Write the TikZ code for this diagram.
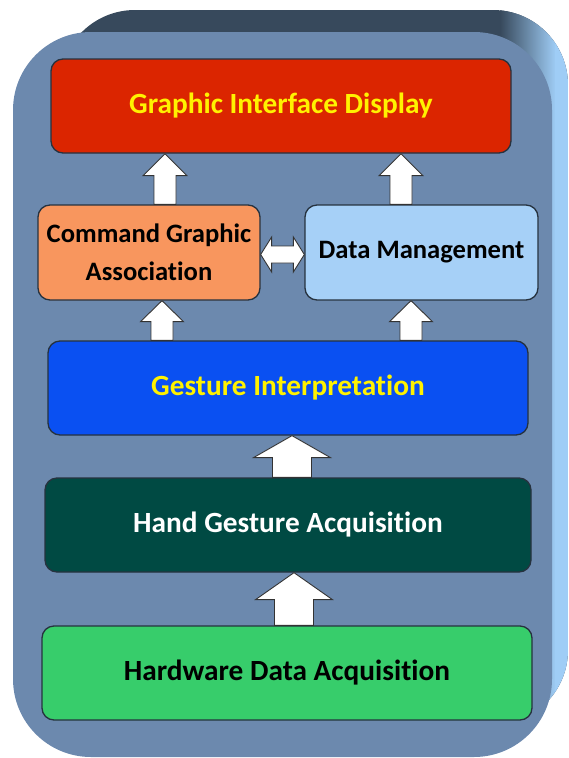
\documentclass[tikz,border=0pt]{standalone}
\usepackage{fontspec}
\setmainfont{Carlito}[Ligatures={NoCommon,NoRequired,NoContextual,NoRare}]
\usetikzlibrary{calc}

\definecolor{panel}{HTML}{6C89AE}
\definecolor{topband}{HTML}{37495C}
\definecolor{sideblue}{HTML}{9FCDF6}
\definecolor{boxline}{HTML}{26323F}
\definecolor{gidred}{HTML}{DB2500}
\definecolor{cgaorange}{HTML}{F8965E}
\definecolor{dmblue}{HTML}{A6D0F7}
\definecolor{giblue}{HTML}{0A50F2}
\definecolor{hgateal}{HTML}{004A43}
\definecolor{hdagreen}{HTML}{37CD6B}

\tikzset{
  layer/.style={draw=boxline, line width=1.3pt, rounded corners=12pt, align=center,
    inner sep=0pt, font=\bfseries\fontsize{29.3}{35}\selectfont},
  smalllayer/.style={layer, font=\bfseries\fontsize{26.6}{38}\selectfont},
  blockarrow/.style={fill=white, draw=black!80, line width=0.9pt, line join=miter}
}

% from, to, half shaft, half head, head length
\newcommand{\upblock}[5]{%
  \filldraw[blockarrow] let \p1=(#1), \p2=(#2) in
    (\x1-#3pt,\y1) -- (\x1-#3pt,\y2-#5pt) -- (\x1-#4pt,\y2-#5pt) -- (\x1,\y2)
    -- (\x1+#4pt,\y2-#5pt) -- (\x1+#3pt,\y2-#5pt) -- (\x1+#3pt,\y1) -- cycle;}
\newcommand{\twowayblock}[5]{%
  \filldraw[blockarrow] let \p1=(#1), \p2=(#2) in
    (\x1,\y1) -- (\x1+#5pt,\y1+#4pt) -- (\x1+#5pt,\y1+#3pt) -- (\x2-#5pt,\y1+#3pt)
    -- (\x2-#5pt,\y1+#4pt) -- (\x2,\y1) -- (\x2-#5pt,\y1-#4pt) -- (\x2-#5pt,\y1-#3pt)
    -- (\x1+#5pt,\y1-#3pt) -- (\x1+#5pt,\y1-#4pt) -- cycle;}

\begin{document}
\begin{tikzpicture}[x=1pt, y=-1pt]
\useasboundingbox (0,0) rectangle (568,758);

\begin{scope}
\clip[rounded corners=75pt] (60,10) rectangle (568,725);
\fill[topband] (60,10) rectangle (568,725);
\shade[left color=topband, right color=sideblue] (500,10) rectangle (556,725);
\fill[sideblue] (555,10) rectangle (568,725);
\end{scope}
\fill[panel, rounded corners=78pt] (13,32) rectangle (552,757);

\node[layer, fill=gidred, text=yellow, minimum width=460pt, minimum height=94pt] (gid) at (281,106) {Graphic Interface Display};
\node[smalllayer, fill=cgaorange, text=black, minimum width=222pt, minimum height=95pt] (cga) at (149,252.5) {Command Graphic\\Association};
\node[smalllayer, fill=dmblue, text=black, minimum width=233pt, minimum height=95pt] (dm) at (421.5,252.5) {Data Management};
\node[layer, fill=giblue, text=yellow, minimum width=480pt, minimum height=94pt] (gi) at (288,388) {Gesture Interpretation};
\node[layer, fill=hgateal, text=white, minimum width=486pt, minimum height=94pt] (hga) at (288,525) {Hand Gesture Acquisition};
\node[layer, fill=hdagreen, text=black, minimum width=490pt, minimum height=94pt] (hda) at (287,673) {Hardware Data Acquisition};

\upblock{$(cga.north)+(16,0)$}{gid.south}{11}{22}{22}
\upblock{$(dm.north)+(-20.5,0)$}{gid.south}{11}{22}{22}
\upblock{$(gi.north)+(-126,0)$}{cga.south}{11}{21.5}{21}
\upblock{$(gi.north)+(123,0)$}{dm.south}{11}{21.5}{21}
\upblock{$(hga.north)+(4,0)$}{gi.south}{19.5}{38.5}{22}
\upblock{$(hda.north)+(7,0)$}{hga.south}{19.5}{38.5}{27}
\twowayblock{$(cga.east)+(0,2)$}{dm.west}{8.5}{17.5}{11}
\end{tikzpicture}
\end{document}
